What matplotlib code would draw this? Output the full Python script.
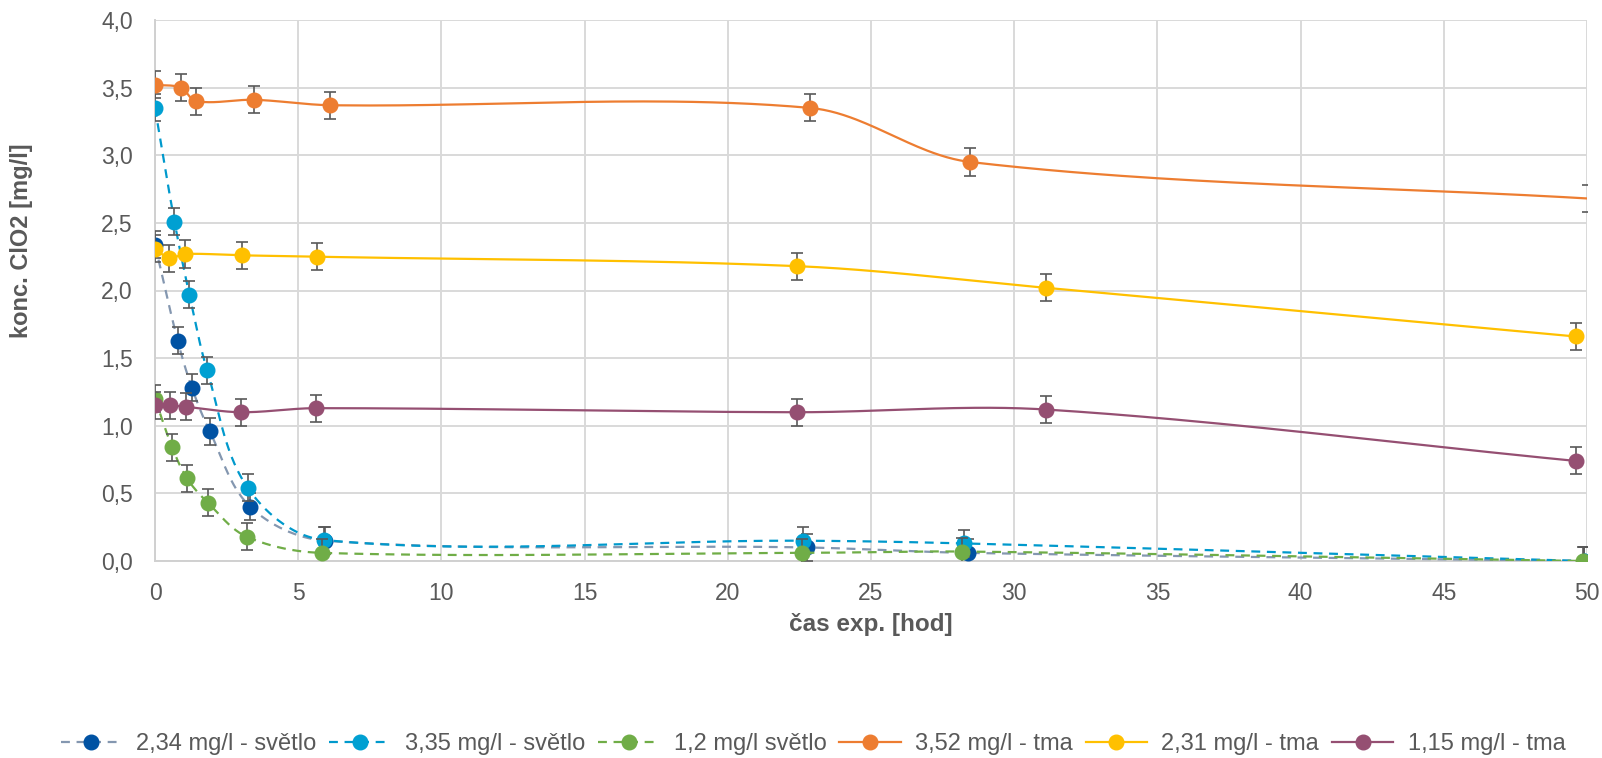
import numpy as np
import matplotlib
matplotlib.use("Agg")
import matplotlib.pyplot as plt
from matplotlib.lines import Line2D

plt.rcParams['font.family'] = ['Liberation Sans', 'DejaVu Sans']

# ---- data ----
labels = ["2,34 mg/l - světlo", "3,35 mg/l - světlo", "1,2 mg/l světlo",
          "3,52 mg/l - tma", "2,31 mg/l - tma", "1,15 mg/l - tma"]

x_234 = [0, 0.79, 1.29, 1.91, 3.33, 5.95, 22.78, 28.38, 49.9]
y_234 = [2.34, 1.63, 1.28, 0.96, 0.40, 0.15, 0.10, 0.06, 0.0]

x_335 = [0, 0.68, 1.20, 1.82, 3.24, 5.91, 22.63, 28.24, 49.9]
y_335 = [3.35, 2.51, 1.97, 1.41, 0.54, 0.155, 0.15, 0.13, 0.0]

x_12 = [0, 0.60, 1.12, 1.85, 3.20, 5.83, 22.58, 28.17, 49.85]
y_12 = [1.20, 0.84, 0.61, 0.43, 0.18, 0.06, 0.06, 0.07, 0.0]

x_352 = [0, 0.90, 1.43, 3.47, 6.12, 22.87, 28.47, 50.05]
y_352 = [3.52, 3.50, 3.40, 3.41, 3.37, 3.35, 2.95, 2.68]

x_231 = [0, 0.50, 1.04, 3.04, 5.66, 22.43, 31.1, 49.6]
y_231 = [2.31, 2.24, 2.27, 2.26, 2.25, 2.18, 2.02, 1.66]

x_115 = [0, 0.53, 1.08, 3.00, 5.63, 22.40, 31.1, 49.6]
y_115 = [1.15, 1.15, 1.14, 1.10, 1.13, 1.10, 1.12, 0.74]

err = 0.1

xs = [x_234, x_335, x_12, x_352, x_231, x_115]
ys = [y_234, y_335, y_12, y_352, y_231, y_115]

line_colors = ["#8497B0", "#0099CC", "#70AD47", "#ED7D31", "#FFC000", "#954F72"]
marker_colors = ["#0052A3", "#00A0D2", "#70AD47", "#ED7D31", "#FFC000", "#954F72"]
dashed = [True, True, True, False, False, False]

XMAX = 50
YMAX = 4.0


def smooth(x, y, n=50):
    """Smoothed line through the points (Bezier, tangent length scaled by segment)."""
    x = np.asarray(x, float)
    y = np.asarray(y, float)
    sx, sy = 1432.0 / XMAX, 541.0 / YMAX
    P = np.column_stack([x * sx, y * sy])
    m = len(P)
    out = []

    def unit(v):
        nrm = np.hypot(*v)
        return v / nrm if nrm > 0 else v

    for i in range(m - 1):
        p0 = P[i - 1] if i > 0 else P[i]
        p1 = P[i]
        p2 = P[i + 1]
        p3 = P[i + 2] if i + 2 < m else P[i + 1]
        L = np.hypot(*(p2 - p1))
        c1 = p1 + unit(p2 - p0) * L / 3.0
        c2 = p2 - unit(p3 - p1) * L / 3.0
        t = np.linspace(0, 1, n)[:, None]
        seg = ((1 - t) ** 3) * p1 + 3 * ((1 - t) ** 2) * t * c1 + 3 * (1 - t) * t ** 2 * c2 + t ** 3 * p2
        out.append(seg if i == 0 else seg[1:])
    Q = np.vstack(out)
    return Q[:, 0] / sx, Q[:, 1] / sy


fig = plt.figure(figsize=(16.02, 7.58), dpi=100)
ax = fig.add_axes([155 / 1602, 1 - 561 / 758, (1587 - 155) / 1602, (561 - 20) / 758])

handles = []
for i in range(6):
    x = np.asarray(xs[i], float)
    y = np.asarray(ys[i], float)
    lx, ly = smooth(x, y)
    ls = (0, (4, 3)) if dashed[i] else '-'
    ax.plot(lx, ly, color=line_colors[i], lw=1.6, linestyle=ls, zorder=3 + i * 0.1,
            solid_capstyle='butt', dash_capstyle='butt')
    ax.errorbar(x, y, yerr=err, fmt='none', ecolor='#595959', elinewidth=1.2,
                capsize=4.3, capthick=1.2, zorder=3.02 + i * 0.1)
    vis = x <= XMAX
    ax.plot(x[vis], y[vis], linestyle='none', marker='o', markersize=10.5,
            markerfacecolor=marker_colors[i], markeredgecolor=marker_colors[i],
            zorder=3.05 + i * 0.1)
    handles.append(Line2D([0], [0], color=line_colors[i], lw=1.6, linestyle=ls,
                          marker='o', markersize=10.5, markerfacecolor=marker_colors[i],
                          markeredgecolor=marker_colors[i]))

ax.set_xlim(0, XMAX)
ax.set_ylim(0, YMAX)
ax.set_xticks(np.arange(0, 51, 5))
ax.set_yticks(np.arange(0, 4.01, 0.5))
ax.set_yticklabels([f"{v:.1f}".replace('.', ',') for v in np.arange(0, 4.01, 0.5)])
ax.grid(True, color='#D9D9D9', lw=1.4, zorder=0)
ax.set_axisbelow(True)
for s in ['top', 'right']:
    ax.spines[s].set_visible(False)
for s in ['left', 'bottom']:
    ax.spines[s].set_color('#D0D0D0')
    ax.spines[s].set_linewidth(1.4)
ax.tick_params(axis='both', length=0, labelsize=16.5, labelcolor='#595959')
ax.tick_params(axis='y', pad=16)
ax.tick_params(axis='x', pad=15)

ax.set_xlabel("čas exp. [hod]", fontsize=17.5, fontweight='bold', color='#595959')
ax.xaxis.set_label_coords(0.5, (561 - 625) / 541)
ax.xaxis.label.set_va('center')
ax.set_ylabel("konc. ClO2 [mg/l]", fontsize=17, fontweight='bold', color='#595959')
ax.yaxis.set_label_coords((22 - 155) / 1432, (561 - 241) / 541)
ax.yaxis.label.set_va('center')

fig.legend(handles, labels, loc='center', bbox_to_anchor=(813 / 1602, 1 - 744 / 758), ncol=6,
           frameon=False, fontsize=17, handlelength=2.6, handletextpad=0.6,
           columnspacing=0.55, labelcolor='#595959')

fig.savefig("out.png", dpi=100)
